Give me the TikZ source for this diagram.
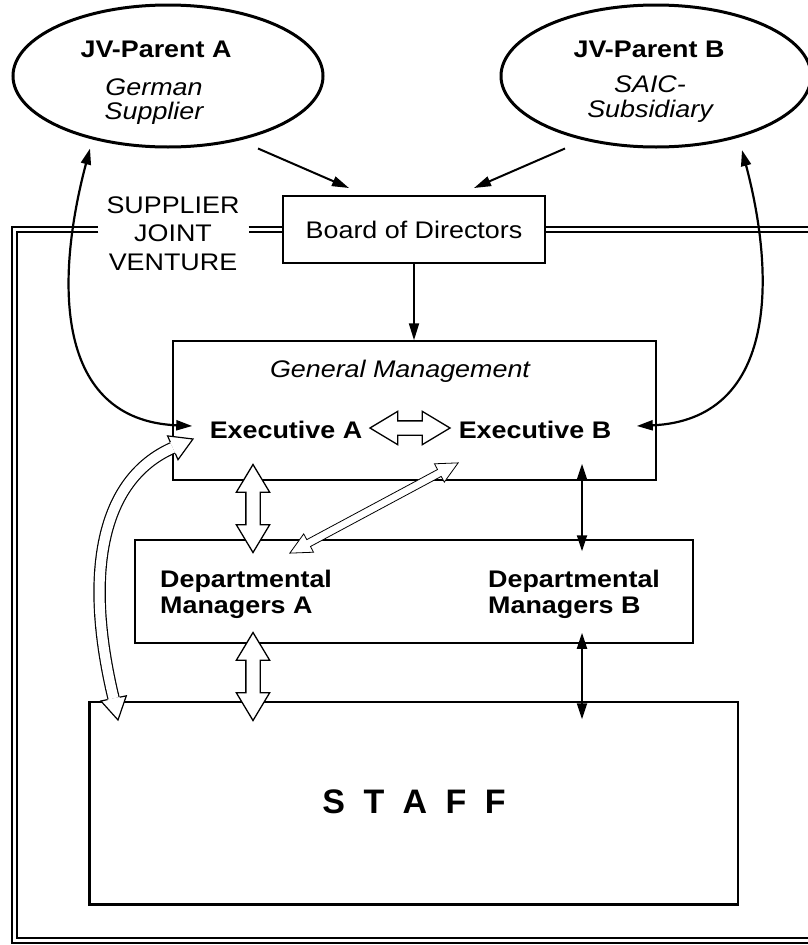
\documentclass[tikz,border=0pt]{standalone}
\usepackage{fontspec}
\setmainfont{Liberation Sans}[FakeStretch=1.12]
\newfontfamily\stafffont{Liberation Sans}
\usetikzlibrary{positioning, calc, arrows.meta, shapes.geometric, shapes.arrows}
\tikzset{jvparent/.style={ellipse, draw, line width=3pt, minimum width=310pt, minimum height=142pt}}
\tikzset{orgbox/.style={rectangle, draw, line width=1.5pt}}
\tikzset{frame/.style={double, double distance=3.6pt, line width=1.3pt}}
\tikzset{flow/.style={line width=2pt, -{Triangle[length=17pt, width=10pt]}}}
\tikzset{twoway/.style={line width=2.2pt, {Triangle[length=16pt, width=10pt]}-{Triangle[length=16pt, width=10pt]}}}
\tikzset{hollow/.style={double arrow, draw, fill=white, line width=1.3pt, inner sep=6.5pt, double arrow head extend=9.5pt, double arrow tip angle=62, minimum height=88pt}}
\tikzset{hollowline/.style={double, double distance=10pt, line width=1.2pt}}
\tikzset{hollowhead/.style={fill=white, line width=1.2pt, line join=miter}}

\begin{document}
\begin{tikzpicture}[x=1pt, y=-1pt, every node/.style={inner sep=0pt, font=\fontsize{24}{25}\selectfont}]
  \fill[white] (0,0) rectangle (808,945);
  \useasboundingbox (0,0) rectangle (808,945);

  % the two parents
  \node[jvparent] (parentA) at (168,76) {};
  \node[anchor=base] (nameA) at (156,57) {\bfseries JV-Parent A};
  \node[anchor=base, font=\fontsize{24}{23}\selectfont\itshape] (kindA) at (154,95) {
    \begin{tabular}[t]{@{}c@{}}
      German \\
      Supplier \\
    \end{tabular}
  };

  \node[jvparent] (parentB) at (656,76) {};
  \node[anchor=base] (nameB) at (649,57) {\bfseries JV-Parent B};
  \node[anchor=base, font=\fontsize{24}{25}\selectfont\itshape] (kindB) at (650,92) {
    \begin{tabular}[t]{@{}c@{}}
      SAIC- \\
      Subsidiary \\
    \end{tabular}
  };

  % joint venture frame
  \node[orgbox, line width=2pt, minimum width=262pt, minimum height=67pt] (board) at (414,229.5) {Board of Directors};
  \node[anchor=base, font=\fontsize{24}{28.5}\selectfont] (jv) at (173,213) {
    \begin{tabular}[t]{@{}c@{}}
      SUPPLIER \\
      JOINT \\
      VENTURE \\
    \end{tabular}
  };
  \coordinate (frameSW) at (14.5,940.5);
  \coordinate (frameSE) at (808,940.5);
  \draw[frame] ($(jv.west |- board.west)+(-8,0)$) -| (frameSW) -- (frameSE);
  \draw[frame] ($(jv.east |- board.west)+(9,0)$) -- (board.west);
  \draw[frame] (board.east) -- (board.east -| frameSE);

  \node[orgbox, minimum width=483pt, minimum height=139pt] (gm) at (414.5,410.5) {};
  \node[anchor=base, font=\fontsize{24}{25}\selectfont\itshape] (gmName) at (400,377) {General Management};
  \node[anchor=base] (execA) at (286,438) {\bfseries Executive A};
  \node[anchor=base] (execB) at (535,438) {\bfseries Executive B};

  \node[orgbox, minimum width=558pt, minimum height=103pt] (dm) at (414,591.5) {};
  \node[anchor=base west, font=\fontsize{24}{26}\selectfont\bfseries] (dmA) at (160,587) {
    \begin{tabular}[t]{@{}l@{}}
      Departmental \\
      Managers A \\
    \end{tabular}
  };
  \node[anchor=base west, font=\fontsize{24}{26}\selectfont\bfseries] (dmB) at (488,587) {
    \begin{tabular}[t]{@{}l@{}}
      Departmental \\
      Managers B \\
    \end{tabular}
  };

  \node[orgbox, minimum width=648pt, minimum height=202pt] (staff) at (414,803) {};
  \draw[line width=3pt] (staff.north west) -- (staff.south west) -- (staff.south east);
  \node[anchor=base, font=\stafffont\fontsize{34}{34}\selectfont\bfseries] (staffName) at (414,813) {\spaceskip=18.4pt S T A F F};

  % lines of control
  \draw[flow] ($(parentA.south)+(90,0)$) -- ($(board.north west)+(67,-7)$);
  \draw[flow] ($(parentB.south)+(-91,0)$) -- ($(board.north east)+(-72,-7)$);
  \draw[flow] (board.south) -- (board.south |- gm.north);
  \draw[twoway] ($(parentA.south)+(-78,0)$) .. controls +(-35,132) and +(-138,-6) .. ($(gm.west)+(20,15.5)$);
  \draw[twoway] ($(parentB.south)+(86,1.5)$) .. controls +(35,132) and +(138,-6) .. ($(gm.east)+(-20,15.5)$);

  \node[hollow, minimum height=80pt] (execLink) at (410,428) {};
  \node[hollow, rotate=90] (linkA1) at (253,508.5) {};
  \node[hollow, rotate=90] (linkA2) at (253,676.5) {};
  \node[hollow, line width=0.8pt, inner sep=3.5pt, double arrow head extend=6.5pt, double arrow tip angle=52, minimum height=191pt, rotate=28.2] (crossLink) at (374,508) {};
  \draw[twoway] ($(gm.south)+(167.5,-17)$) -- ($(dm.north)+(168,12)$);
  \draw[twoway] ($(dm.south)+(168,-11)$) -- ($(staff.north)+(168,18)$);

  % hollow loop from executive A down to the staff
  \coordinate (loopTop) at (193,439);
  \coordinate (loopEnd) at (118,720);
  \draw[hollowline] ($(loopTop)+(-20.2,8.8)$) .. controls (100,480) and (84,575) .. ($(loopEnd)+(-4.4,-21.6)$);
  \draw[hollowhead] (loopTop) ++(-17.7,14.5) -- ++(2.7,6.2) -- (loopTop) -- ++(-25.4,-3.1) -- ++(2.7,6.2);
  \draw[hollowhead] (loopEnd) ++(1.7,-22.8) -- ++(6.6,-1.4) -- (loopEnd) -- ++(-17.1,-19) -- ++(6.6,-1.4);
\end{tikzpicture}
\end{document}
